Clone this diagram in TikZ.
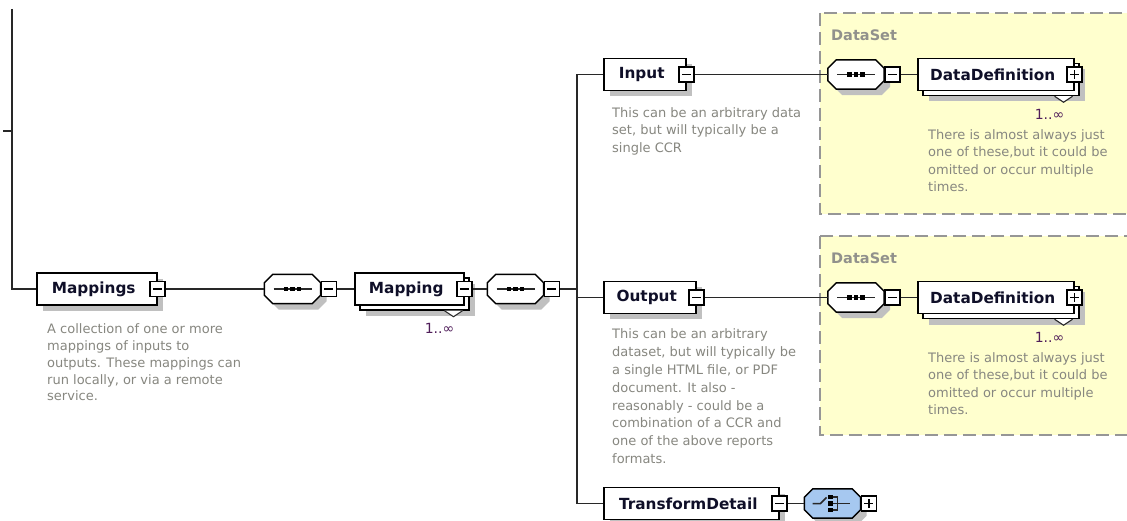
\documentclass[tikz,border=0pt]{standalone}
\usepackage{fontspec}
\setmainfont{DejaVu Sans}
\usetikzlibrary{shadows}

\definecolor{linec}{RGB}{40,40,40}
\definecolor{shadowc}{RGB}{192,192,192}
\definecolor{descc}{RGB}{135,135,128}
\definecolor{dsfill}{RGB}{255,255,206}
\definecolor{dsline}{RGB}{150,150,150}
\definecolor{dslabel}{RGB}{145,145,140}
\definecolor{choicefill}{RGB}{166,200,240}
\definecolor{occurc}{RGB}{80,30,90}
\definecolor{labelc}{RGB}{15,15,40}

% octagonal compositor outline around a named frame node
\newcommand\compoutline[1]{%
  ([xshift=8.5pt]#1.north west) -- ([xshift=-8.5pt]#1.north east) --
  ([yshift=-8.5pt]#1.north east) -- ([yshift=8.5pt]#1.south east) --
  ([xshift=-8.5pt]#1.south east) -- ([xshift=8.5pt]#1.south west) --
  ([yshift=8.5pt]#1.south west) -- ([yshift=-8.5pt]#1.north west) -- cycle}
\newcommand\compositor[2]{%
  \fill[shadowc, transform canvas={xshift=6pt, yshift=-6pt}] \compoutline{#1};
  \draw[black, line width=1.5pt, fill=#2] \compoutline{#1};}

\tikzset{
  conn/.style={draw=linec, line width=1.7pt},
  boxshadow/.style={drop shadow={shadow xshift=#1, shadow yshift=-#1, opacity=1, fill=shadowc, draw=none}},
  elembox/.style={draw=black, line width=1.5pt, fill=white, minimum height=32pt,
    inner sep=0pt, boxshadow=6pt},
  multibox/.style={draw=black, line width=1.5pt, fill=white, minimum height=32pt,
    inner sep=0pt, boxshadow=11pt,
    copy shadow={shadow xshift=5pt, shadow yshift=-5pt, draw=black, fill=white, line width=1.5pt}},
  compframe/.style={minimum width=56pt, minimum height=29pt, inner sep=0pt},
  togglebox/.style={draw=black, line width=1.3pt, fill=white, minimum size=15pt, inner sep=0pt},
  minusbox/.style={togglebox, path picture={
      \draw[line width=1.3pt] ([xshift=-4.5pt]path picture bounding box.center) -- ++(9pt,0);}},
  plusbox/.style={togglebox, path picture={
      \draw[line width=1.3pt] ([xshift=-4.5pt]path picture bounding box.center) -- ++(9pt,0);
      \draw[line width=1.3pt] ([yshift=-4.5pt]path picture bounding box.center) -- ++(0,-9);}},
  lbl/.style={inner sep=0pt, text=labelc, font=\fontsize{15.3}{18}\selectfont\bfseries},
  desc/.style={anchor=north west, yshift=12.25pt, align=left, inner sep=0pt, text=descc,
    font=\fontsize{13}{17.5}\selectfont},
  occ/.style={inner sep=0pt, text=occurc, font=\fontsize{14}{16}\selectfont},
  dslbl/.style={anchor=west, inner sep=0pt, text=dslabel, font=\fontsize{14.5}{17}\selectfont\bfseries},
  dsarea/.style={draw=dsline, fill=dsfill, line width=1.4pt, dash pattern=on 13pt off 6pt},
  vmark/.style={draw=linec, line width=1.1pt, fill=white},
  seqicon/.pic={
    \draw[line width=1.5pt, linec] (-19,0) -- (19,0);
    \foreach \d in {-6.5,0,6.5} \fill[black] (\d-2.4,-2.4) rectangle (\d+2.4,2.4);
  },
  choiceicon/.pic={
    \draw[line width=1.5pt, linec] (-20,0) -- (-12,0) -- (-6,-6);
    \foreach \d in {-6.5,0,6.5} \fill[black] (-4.5,\d-2.3) rectangle (0.5,\d+2.3);
    \draw[line width=1.4pt, linec] (0.5,-6.5) -- (5,-6.5) -- (5,6.5) -- (0.5,6.5);
    \draw[line width=1.5pt, linec] (0.5,0) -- (17,0);
  }
}

\begin{document}
\begin{tikzpicture}[x=1pt,y=-1pt]
\useasboundingbox (0,0) rectangle (1127,521);
\clip (0,0) rectangle (1127,521);
\fill[white] (0,0) rectangle (1127,521);

% DataSet groups
\draw[dsarea] (820,13) rectangle (1150,214);
\draw[dsarea] (820,236) rectangle (1150,435);
\node[dslbl] (ds1L) at (831,35) {DataSet};
\node[dslbl] (ds2L) at (831,258) {DataSet};

% Mappings
\node[elembox, minimum width=120pt, anchor=west] (mappings) at (36,289) {};
\node[lbl] (mappingsL) at ([xshift=-3pt]mappings.center) {Mappings};
\node[minusbox] (mappingsT) at (mappings.east) {};
\node[desc, font=\fontsize{13}{16.8}\selectfont] (mappingsD) at (47,334) {\strut A collection of one or more\\mappings of inputs to\\outputs. These mappings can\\run locally, or via a remote\\service.};

% sequence below Mappings
\node[compframe] (seq1) at (292.5,289) {};
\compositor{seq1}{white}
\pic at (seq1.center) {seqicon};
\node[minusbox, anchor=west] (seq1T) at (seq1.east) {};

% Mapping (1..unbounded)
\node[multibox, minimum width=109pt, anchor=west] (mapping) at (354,289) {};
\node[lbl] (mappingL) at ([xshift=-3pt]mapping.center) {Mapping};
\node[minusbox] (mappingT) at (mapping.east) {};
\draw[vmark] ([xshift=-20pt,yshift=-5pt]mapping.south east) -- ([xshift=-11pt,yshift=-11pt]mapping.south east) -- ([xshift=-2pt,yshift=-5pt]mapping.south east);
\node[occ] (mappingO) at ([xshift=-25pt,yshift=-23pt]mapping.south east) {1..∞};

% sequence below Mapping
\node[compframe] (seq2) at (515.5,289) {};
\compositor{seq2}{white}
\pic at (seq2.center) {seqicon};
\node[minusbox, anchor=west] (seq2T) at (seq2.east) {};

% Input
\node[elembox, minimum width=82pt, anchor=west] (input) at (603,74.5) {};
\node[lbl] (inputL) at ([xshift=-3pt]input.center) {Input};
\node[minusbox] (inputT) at (input.east) {};
\node[desc] (inputD) at (612,117) {\strut This can be an arbitrary data\\set, but will typically be a\\single CCR};

% Output
\node[elembox, minimum width=92pt, anchor=west] (output) at (603,297.5) {};
\node[lbl] (outputL) at ([xshift=-3pt]output.center) {Output};
\node[minusbox] (outputT) at (output.east) {};
\node[desc, font=\fontsize{13}{17.9}\selectfont] (outputD) at (612,338) {\strut This can be an arbitrary\\dataset, but will typically be\\a single HTML file, or PDF\\document. It also -\\reasonably - could be a\\combination of a CCR and\\one of the above reports\\formats.};

% TransformDetail
\node[elembox, minimum width=175pt, anchor=west] (td) at (603,503.5) {};
\node[lbl] (tdL) at ([xshift=-3pt]td.center) {TransformDetail};
\node[minusbox] (tdT) at (td.east) {};
\node[compframe] (choice) at (832.5,503.5) {};
\compositor{choice}{choicefill}
\pic at (choice.center) {choiceicon};
\node[plusbox, anchor=west] (choiceT) at (choice.east) {};

% DataSet of Input
\node[compframe] (ds1seq) at (856,74.5) {};
\compositor{ds1seq}{white}
\pic at (ds1seq.center) {seqicon};
\node[minusbox, anchor=west] (ds1seqT) at (ds1seq.east) {};
\node[multibox, minimum width=156pt, anchor=west] (dd1) at (917,74.5) {};
\node[lbl] (dd1L) at ([xshift=-3pt]dd1.center) {DataDefinition};
\node[plusbox] (dd1T) at (dd1.east) {};
\draw[vmark] ([xshift=-20pt,yshift=-5pt]dd1.south east) -- ([xshift=-11pt,yshift=-11pt]dd1.south east) -- ([xshift=-2pt,yshift=-5pt]dd1.south east);
\node[occ] (dd1O) at ([xshift=-25pt,yshift=-23pt]dd1.south east) {1..∞};
\node[desc] (dd1D) at (928,139) {\strut There is almost always just\\one of these,but it could be\\omitted or occur multiple\\times.};

% DataSet of Output
\node[compframe] (ds2seq) at (856,297.5) {};
\compositor{ds2seq}{white}
\pic at (ds2seq.center) {seqicon};
\node[minusbox, anchor=west] (ds2seqT) at (ds2seq.east) {};
\node[multibox, minimum width=156pt, anchor=west] (dd2) at (917,297.5) {};
\node[lbl] (dd2L) at ([xshift=-3pt]dd2.center) {DataDefinition};
\node[plusbox] (dd2T) at (dd2.east) {};
\draw[vmark] ([xshift=-20pt,yshift=-5pt]dd2.south east) -- ([xshift=-11pt,yshift=-11pt]dd2.south east) -- ([xshift=-2pt,yshift=-5pt]dd2.south east);
\node[occ] (dd2O) at ([xshift=-25pt,yshift=-23pt]dd2.south east) {1..∞};
\node[desc] (dd2D) at (928,362) {\strut There is almost always just\\one of these,but it could be\\omitted or occur multiple\\times.};

% connectors
\coordinate (parentTop) at (12,9);
\coordinate (parentTick) at (3,131);
\coordinate (trunkTop) at (577,74.5);
\coordinate (trunkBot) at (577,503.5);
\draw[conn] (parentTop) |- (mappings.west);
\draw[conn] (parentTick) -- (parentTick -| parentTop);
\draw[conn] (mappingsT.east) -- (seq1.west);
\draw[conn] (seq1T.east) -- (mapping.west);
\draw[conn] (mappingT.east) -- (seq2.west);
\draw[conn] (seq2T.east) -- (seq2T.east -| trunkTop);
\draw[conn] (input.west) -- (trunkTop) -- (trunkBot) -- (td.west);
\draw[conn] (output.west) -- (output.west -| trunkTop);
\draw[conn] (inputT.east) -- (ds1seq.west);
\draw[conn] (ds1seqT.east) -- (dd1.west);
\draw[conn] (outputT.east) -- (ds2seq.west);
\draw[conn] (ds2seqT.east) -- (dd2.west);
\draw[conn] (tdT.east) -- (choice.west);
\end{tikzpicture}
\end{document}
